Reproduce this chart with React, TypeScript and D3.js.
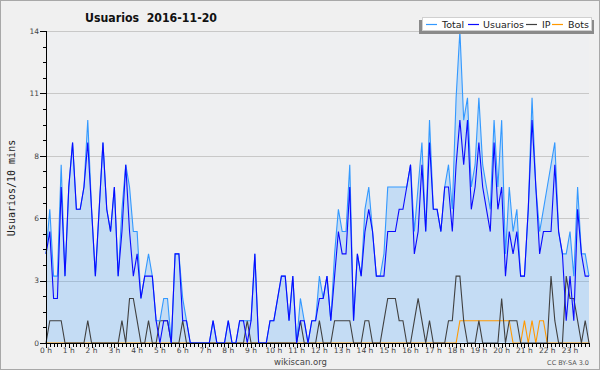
import React, { useEffect, useRef } from 'react';
import * as d3 from 'd3';

const hourLabels = d3.range(24).map((h) => `${h} h`);
const yTickValues = [0, 2.8, 5.6, 8.4, 11.2, 14];
const yTickLabels = ['0', '3', '6', '8', '11', '14'];
const seriesNames = ['Total', 'Usuarios', 'IP', 'Bots'];
const seriesColors = ['#3399ff', '#0a0aff', '#404040', '#ff9900'];

const total = [
  4, 6, 3, 3, 8, 3, 7, 9, 6, 6,
  7, 10, 6, 3, 6, 9, 6, 5, 7, 3,
  6, 8, 7, 5, 5, 2, 3, 4, 3, 1,
  1, 2, 2, 0, 4, 4, 2, 1, 0, 0,
  0, 0, 0, 0, 1, 0, 0, 0, 1, 0,
  0, 1, 1, 1, 1, 4, 0, 0, 0, 1,
  1, 2, 3, 3, 1, 3, 0, 2, 1, 0,
  1, 1, 3, 2, 3, 1, 4, 6, 5, 5,
  8, 1, 4, 3, 6, 7, 5, 3, 3, 4,
  7, 7, 7, 7, 7, 7, 8, 5, 7, 9,
  5, 10, 6, 6, 5, 7, 8, 6, 11, 14,
  10, 11, 7, 8, 11, 8, 7, 6, 10, 7,
  10, 4, 7, 5, 6, 3, 3, 6, 11, 7,
  5, 6, 7, 8, 9, 5, 4, 4, 5, 3,
  7, 4, 4, 3,
];
const users = [
  4, 5, 2, 2, 7, 3, 7, 9, 6, 6,
  7, 9, 6, 3, 6, 9, 6, 5, 7, 3,
  5, 8, 5, 3, 4, 2, 3, 3, 3, 1,
  0, 1, 1, 0, 4, 4, 1, 1, 0, 0,
  0, 0, 0, 0, 1, 0, 0, 0, 1, 0,
  0, 1, 1, 0, 1, 4, 0, 0, 0, 1,
  1, 2, 3, 3, 1, 3, 0, 1, 1, 0,
  1, 1, 2, 2, 3, 1, 3, 5, 4, 4,
  7, 1, 4, 3, 5, 6, 5, 3, 3, 3,
  5, 5, 5, 6, 6, 7, 8, 4, 5, 8,
  5, 9, 6, 6, 5, 7, 7, 5, 8, 10,
  8, 10, 6, 7, 9, 7, 6, 5, 9, 6,
  7, 3, 5, 4, 5, 3, 3, 6, 10, 7,
  4, 5, 5, 5, 8, 5, 4, 1, 3, 1,
  6, 4, 3, 3,
];
const ip = [
  0, 1, 1, 1, 1, 0, 0, 0, 0, 0,
  0, 1, 0, 0, 0, 0, 0, 0, 0, 0,
  1, 0, 2, 2, 1, 0, 0, 1, 0, 0,
  1, 1, 1, 0, 0, 0, 1, 0, 0, 0,
  0, 0, 0, 0, 0, 0, 0, 0, 0, 0,
  0, 0, 0, 1, 0, 0, 0, 0, 0, 0,
  0, 0, 0, 0, 0, 0, 0, 1, 0, 0,
  0, 0, 1, 0, 0, 0, 1, 1, 1, 1,
  1, 0, 0, 0, 1, 1, 0, 0, 0, 1,
  2, 2, 2, 1, 1, 0, 0, 1, 2, 1,
  0, 1, 0, 0, 0, 0, 1, 1, 3, 3,
  1, 0, 0, 0, 1, 0, 0, 0, 0, 0,
  2, 0, 1, 1, 1, 0, 0, 0, 0, 0,
  0, 0, 0, 3, 1, 0, 0, 3, 2, 2,
  1, 0, 1, 0,
];
const bots = [
  0, 0, 0, 0, 0, 0, 0, 0, 0, 0,
  0, 0, 0, 0, 0, 0, 0, 0, 0, 0,
  0, 0, 0, 0, 0, 0, 0, 0, 0, 0,
  0, 0, 0, 0, 0, 0, 0, 0, 0, 0,
  0, 0, 0, 0, 0, 0, 0, 0, 0, 0,
  0, 0, 0, 0, 0, 0, 0, 0, 0, 0,
  0, 0, 0, 0, 0, 0, 0, 0, 0, 0,
  0, 0, 0, 0, 0, 0, 0, 0, 0, 0,
  0, 0, 0, 0, 0, 0, 0, 0, 0, 0,
  0, 0, 0, 0, 0, 0, 0, 0, 0, 0,
  0, 0, 0, 0, 0, 0, 0, 0, 0, 1,
  1, 1, 1, 1, 1, 1, 1, 1, 1, 1,
  1, 1, 1, 0, 0, 0, 1, 0, 1, 0,
  1, 1, 0, 0, 0, 0, 0, 0, 0, 0,
  0, 0, 0, 0,
];

const W = 600;
const H = 370;
const X0 = 46;
const X1 = 589;
const Y0 = 343;
const Y1 = 31;

export default function App() {
  const ref = useRef<SVGSVGElement>(null);

  useEffect(() => {
    document.body.style.margin = '0';
    const svg = d3.select(ref.current);
    svg.selectAll('*').remove();

    const n = total.length;
    const x = d3.scaleLinear().domain([0, n - 1]).range([X0, X1]);
    const y = d3.scaleLinear().domain([0, 14]).range([Y0, Y1]);

    svg.append('rect').attr('x', 0.5).attr('y', 0.5).attr('width', W - 1).attr('height', H - 1)
      .attr('fill', '#f0f0f0').attr('stroke', '#a8a8a8');

    svg.append('rect').attr('x', X0).attr('y', Y1).attr('width', X1 - X0).attr('height', Y0 - Y1)
      .attr('fill', '#eeeff1');

    // grid
    svg.append('g').selectAll('line').data(yTickValues).join('line')
      .attr('x1', X0).attr('x2', X1)
      .attr('y1', (d) => Math.round(y(d)) + 0.5).attr('y2', (d) => Math.round(y(d)) + 0.5)
      .attr('stroke', '#c8c8c8').attr('stroke-width', 1);

    const idx = d3.range(n);
    const area = d3.area<number>().x((i) => x(i)).y0(y(0)).y1((i) => y(total[i]));
    svg.append('path').attr('d', area(idx) as string).attr('fill', 'rgba(51,153,255,0.22)');

    const mk = (arr: number[]) => d3.line<number>().x((i) => x(i)).y((i) => y(arr[i]))(idx) as string;
    const seriesData = [total, users, ip, bots];
    [3, 2, 0, 1].forEach((k) => {
      svg.append('path').attr('d', mk(seriesData[k])).attr('fill', 'none')
        .attr('stroke', seriesColors[k]).attr('stroke-width', 1.1).attr('stroke-linejoin', 'miter');
    });

    // y axis
    const ya = svg.append('g');
    ya.append('line').attr('x1', X0 + 0.5).attr('x2', X0 + 0.5).attr('y1', Y1).attr('y2', Y0 + 1)
      .attr('stroke', '#000');
    const minor = d3.range(0, 21).map((k) => k * 0.7);
    ya.selectAll('line.mt').data(minor).join('line').attr('class', 'mt')
      .attr('x1', (d, k) => (k % 4 === 0 ? X0 - 6 : X0 - 3)).attr('x2', X0)
      .attr('y1', (d) => Math.round(y(d)) + 0.5).attr('y2', (d) => Math.round(y(d)) + 0.5)
      .attr('stroke', '#000');
    ya.selectAll('text').data(yTickValues).join('text')
      .attr('x', X0 - 7).attr('y', (d) => y(d) + 2.7)
      .attr('text-anchor', 'end').attr('font-family', 'DejaVu Sans').attr('font-size', 7.5)
      .attr('fill', '#444').text((d, k) => yTickLabels[k]);

    // x axis
    const xa = svg.append('g');
    xa.append('line').attr('x1', X0).attr('x2', X1 + 1).attr('y1', Y0 + 0.5).attr('y2', Y0 + 0.5)
      .attr('stroke', '#000');
    xa.selectAll('line.t').data(d3.range(0, n)).join('line').attr('class', 't')
      .attr('x1', (i) => Math.round(x(i)) + 0.5)
      .attr('x2', (i) => Math.round(x(i)) + 0.5)
      .attr('y1', Y0).attr('y2', (i) => (i % 6 === 0 ? Y0 + 5 : Y0 + 4))
      .attr('stroke', '#000');
    xa.selectAll('text').data(hourLabels).join('text')
      .attr('x', (d, h) => x(h * 6)).attr('y', 353)
      .attr('text-anchor', 'middle').attr('font-family', 'DejaVu Sans').attr('font-size', 7.5)
      .attr('fill', '#444').text((d) => d);

    // y label
    svg.append('text').attr('transform', 'translate(14.5,188) rotate(-90)')
      .attr('text-anchor', 'middle').attr('font-family', 'DejaVu Sans Mono').attr('font-size', 10)
      .attr('fill', '#222').text('Usuarios/10 mins');

    // title
    svg.append('text').attr('x', 85).attr('y', 22)
      .attr('font-family', 'DejaVu Sans').attr('font-weight', 'bold').attr('font-size', 12.5)
      .attr('textLength', 132).attr('lengthAdjust', 'spacingAndGlyphs')
      .style('white-space', 'pre').attr('fill', '#111').text('Usuarios  2016-11-20');

    // legend
    const lg = svg.append('g');
    lg.append('rect').attr('x', 419).attr('y', 20).attr('width', 175).attr('height', 14).attr('fill', '#8a8a8a');
    lg.append('rect').attr('x', 422.5).attr('y', 17.5).attr('width', 169).attr('height', 13)
      .attr('fill', '#ffffff').attr('stroke', '#d0d0d0');
    const swX = [426, 468, 526, 552];
    const txX = [442, 483, 542, 568];
    seriesNames.forEach((name, k) => {
      lg.append('line').attr('x1', swX[k]).attr('x2', swX[k] + 11).attr('y1', 24.5).attr('y2', 24.5)
        .attr('stroke', seriesColors[k]).attr('stroke-width', 1.2);
      lg.append('text').attr('x', txX[k]).attr('y', 27.8).attr('font-family', 'DejaVu Sans')
        .attr('font-size', 9.5).attr('fill', '#222').text(name);
    });

    // footer
    svg.append('text').attr('x', 300.5).attr('y', 365).attr('text-anchor', 'middle')
      .attr('font-family', 'DejaVu Sans').attr('font-size', 8.5).attr('fill', '#444').text('wikiscan.org');
    svg.append('text').attr('x', 589).attr('y', 365).attr('text-anchor', 'end')
      .attr('font-family', 'DejaVu Sans').attr('font-size', 6.5).attr('fill', '#555').text('CC BY-SA 3.0');
  }, []);

  return <svg ref={ref} width={W} height={H} style={{ display: 'block', position: 'absolute', left: 0, top: 0 }} />;
}
